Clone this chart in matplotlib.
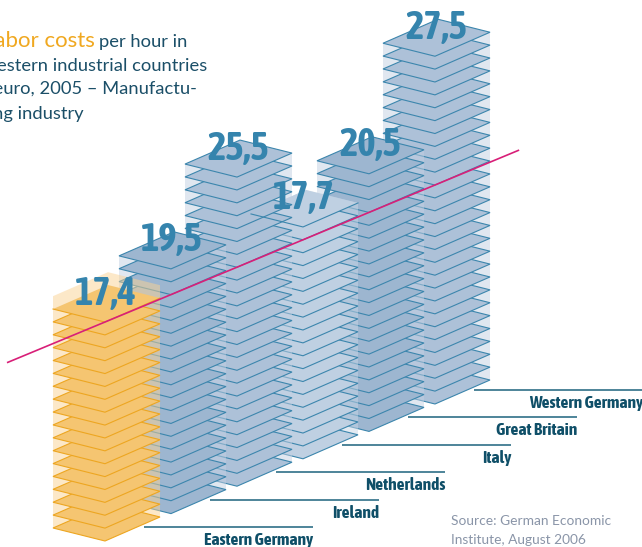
import matplotlib
matplotlib.use("Agg")
import matplotlib.pyplot as plt
from matplotlib.patches import Polygon

countries = ["Eastern Germany", "Ireland", "Netherlands", "Italy", "Great Britain", "Western Germany"]
costs = [17.4, 19.5, 25.5, 17.7, 20.5, 27.5]
labels = ["17,4", "19,5", "25,5", "17,7", "20,5", "27,5"]
slab_steps = [17, 19, 24, 18, 20, 27]
backing_extra = [1, 0, 0, 0, 0, 0]
top_back_edge = [False, True, True, False, True, True]
fills = ["#f5c571", "#9db6d0", "#adc1d8", "#bfd0e2", "#9db6d0", "#adc1d8"]
backs = ["#fbd293", "#c3d0e2", "#c3d0e2", "#c8d6e6", "#c3d0e2", "#c3d0e2"]
edges = ["#eda621", "#3c86ad", "#3c86ad", "#3c86ad", "#3c86ad", "#3c86ad"]

# projection (pixels of the 642x547 figure)
X0, Y0 = 105.0, 541.0
DX, DY = 66.0, -27.4
STEP = 12.88
UNIT = 219.0 / 17.4
LEFT = (-52.0, -13.0)
RIGHT = (55.0, -24.0)
BACK = (3.0, -37.0)

COND = ["Asap Condensed", "Barlow Condensed", "Liberation Sans"]
BODY = ["Lato", "Open Sans", "DejaVu Sans"]

def base(i):
    return X0 + DX * i, Y0 + DY * i

def diamond(i, lift):
    x, y = base(i)
    y -= lift
    return [(x, y), (x + LEFT[0], y + LEFT[1]), (x + BACK[0], y + BACK[1]), (x + RIGHT[0], y + RIGHT[1])]

fig = plt.figure(figsize=(6.42, 5.47), dpi=100)
ax = fig.add_axes([0, 0, 1, 1])
ax.set_xlim(0, 642)
ax.set_ylim(547, 0)
ax.axis("off")

for i in reversed(range(len(costs))):
    x, y = base(i)
    top = (slab_steps[i] + backing_extra[i]) * STEP
    hexagon = [(x + LEFT[0], y + LEFT[1]), (x + LEFT[0], y + LEFT[1] - top),
               (x + BACK[0], y + BACK[1] - top), (x + RIGHT[0], y + RIGHT[1] - top),
               (x + RIGHT[0], y + RIGHT[1]), (x, y)]
    ax.add_patch(Polygon(hexagon, closed=True, fc=backs[i], ec="none", alpha=0.5))
    for s in range(slab_steps[i] + 1):
        d = diamond(i, s * STEP)
        if s == slab_steps[i] and not top_back_edge[i]:
            ax.add_patch(Polygon(d, closed=True, fc=fills[i], ec="none"))
            ax.plot([d[1][0], d[0][0], d[3][0]], [d[1][1], d[0][1], d[3][1]], color=edges[i], lw=0.8)
        else:
            ax.add_patch(Polygon(d, closed=True, fc=fills[i], ec=edges[i], lw=0.8, joinstyle="miter"))

# reference line at the level of Eastern Germany
lx0, ly0 = base(-1.485)
lx1, ly1 = base(6.275)
lift = costs[0] * UNIT
ax.plot([lx0, lx1], [ly0 - lift, ly1 - lift], color="#d81f78", lw=1.2, solid_capstyle="butt")

for i, lab in enumerate(labels):
    x, y = base(i)
    ax.text(x + 1, y - slab_steps[i] * STEP - 17.5, lab, ha="center", va="baseline",
            fontsize=28, fontweight="bold", family=COND, color="#3584ad")

for i, name in enumerate(countries):
    x, y = base(i)
    x0, x1 = x + 39, x + 39 + 169
    ax.plot([x0, x1], [y - 14, y - 14], color="#2f7088", lw=1.2, solid_capstyle="butt")
    ax.text(x1 + 0.5, y + 4, name, ha="right", va="baseline", fontsize=12.5,
            fontweight="bold", family=COND, color="#0f4f68")

ax.text(95, 47, "Labor costs", ha="right", va="baseline", fontsize=16, color="#f0a820", family=BODY)
ax.text(99, 47, "per hour in", ha="left", va="baseline", fontsize=13.2, color="#1b4f68", family=BODY)
ax.text(207, 71, "Western industrial countries", ha="right", va="baseline", fontsize=13.2, color="#1b4f68", family=BODY)
ax.text(197, 94, "in euro, 2005 – Manufactu-", ha="right", va="baseline", fontsize=13.2, color="#1b4f68", family=BODY)
ax.text(84, 119, "ring industry", ha="right", va="baseline", fontsize=13.2, color="#1b4f68", family=BODY)

ax.text(451, 525, "Source: German Economic", ha="left", va="baseline", fontsize=9.9, color="#8a95a8", family=BODY)
ax.text(451, 544, "Institute, August 2006", ha="left", va="baseline", fontsize=9.9, color="#8a95a8", family=BODY)

fig.savefig("out.png", dpi=100)
